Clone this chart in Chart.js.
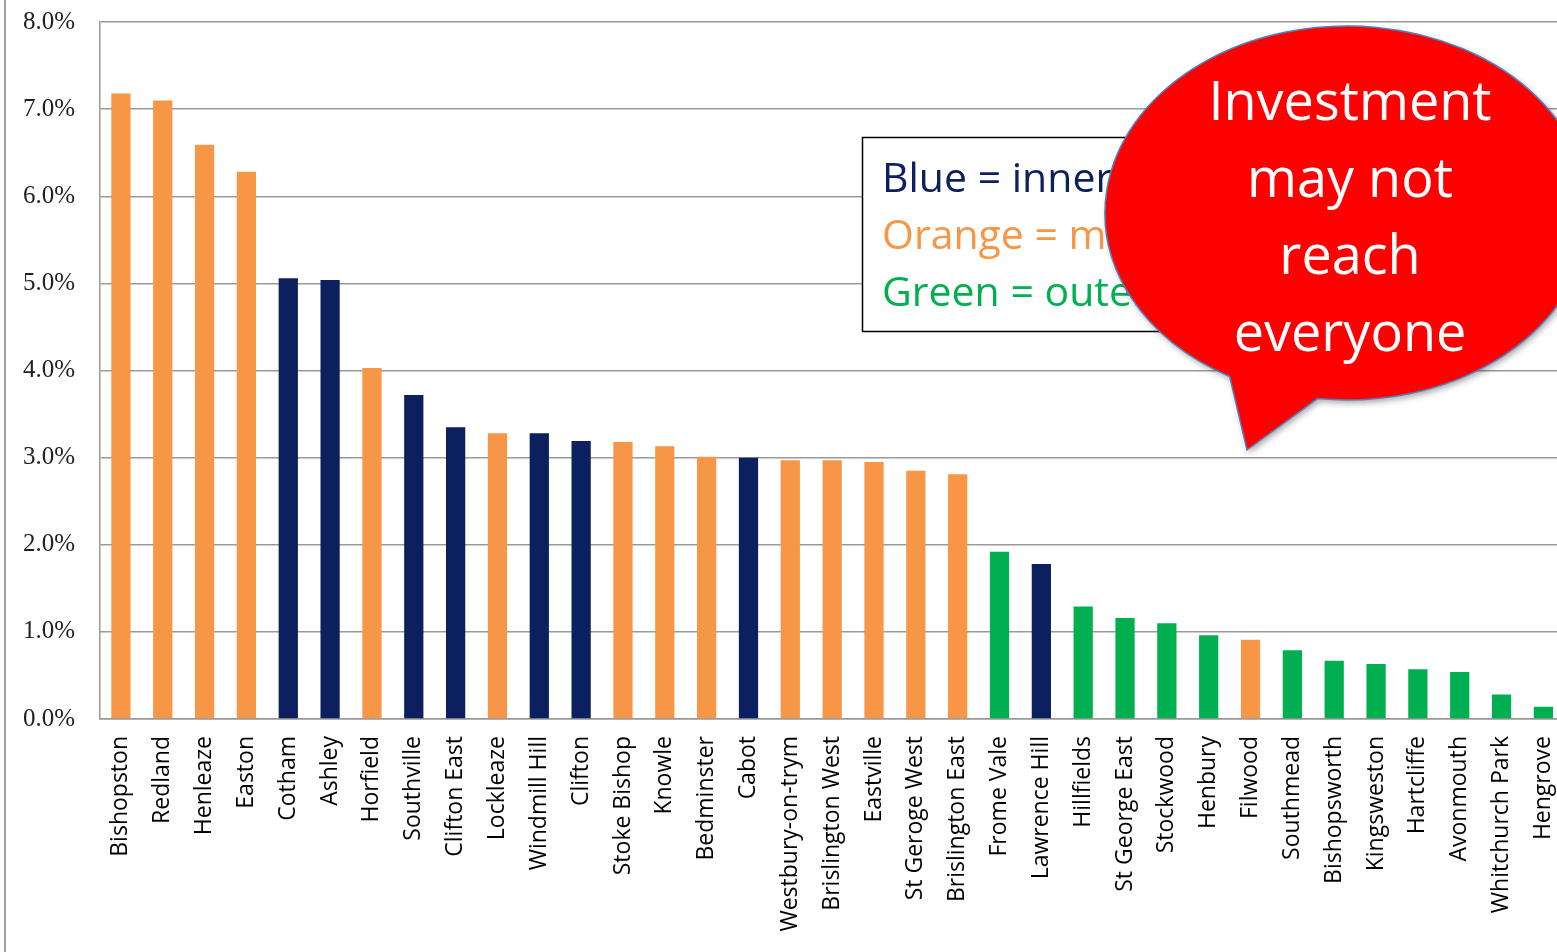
<!DOCTYPE html>
<html>
<head>
<meta charset="utf-8">
<script src="https://cdn.jsdelivr.net/npm/chart.js@4"></script>
<style>
  html, body { margin: 0; padding: 0; background: #fff; overflow: hidden; }
  /* canvas shifted up so the plot top lands where the original's does */
  #wrap { position: absolute; left: 0; top: -18px; width: 1588px; height: 970px; }
</style>
</head>
<body>
<div id="wrap"><canvas id="wardChart" width="1588" height="970"></canvas></div>
<script>
const wards = [
  "Bishopston", "Redland", "Henleaze", "Easton", "Cotham", "Ashley", "Horfield",
  "Southville", "Clifton East", "Lockleaze", "Windmill Hill", "Clifton",
  "Stoke Bishop", "Knowle", "Bedminster", "Cabot", "Westbury-on-trym",
  "Brislington West", "Eastville", "St Geroge West", "Brislington East",
  "Frome Vale", "Lawrence Hill", "Hillfields", "St George East", "Stockwood",
  "Henbury", "Filwood", "Southmead", "Bishopsworth", "Kingsweston",
  "Hartcliffe", "Avonmouth", "Whitchurch Park", "Hengrove",
];

const shares = [
  7.18, 7.10, 6.59, 6.28, 5.06, 5.04, 4.03,
  3.72, 3.35, 3.28, 3.28, 3.19,
  3.18, 3.13, 3.01, 3.00, 2.97,
  2.97, 2.95, 2.85, 2.81,
  1.92, 1.78, 1.29, 1.16, 1.10,
  0.96, 0.91, 0.79, 0.67, 0.63,
  0.57, 0.54, 0.28, 0.14,
];

// i = inner city, m = middle, o = outer
const zones = [
  "m", "m", "m", "m", "i", "i", "m",
  "i", "i", "m", "i", "i",
  "m", "m", "m", "i", "m",
  "m", "m", "m", "m",
  "o", "i", "o", "o", "o",
  "o", "m", "o", "o", "o",
  "o", "o", "o", "o",
];

const yTicks = [0, 1, 2, 3, 4, 5, 6, 7, 8];

const zoneColors = { i: "#0c1f5e", m: "#f79646", o: "#00b050" };

const legendLines = [
  { text: "Blue = inner", color: "#0c1f5e" },
  { text: "Orange = mid", color: "#f79646" },
  { text: "Green = outer", color: "#00b050" },
];

const bubbleLines = ["Investment", "may not", "reach", "everyone"];

const SHIFT = 18; // matches the -18px offset of #wrap

// frame, legend box and speech bubble drawn on top (page coordinates)
const overlay = {
  id: "overlay",
  afterDraw(chart) {
    const c = chart.ctx;
    c.save();
    c.translate(0, SHIFT);

    // outer frame line on the left
    c.strokeStyle = "#a0a0a0";
    c.lineWidth = 2;
    c.beginPath();
    c.moveTo(5, -SHIFT);
    c.lineTo(5, 952);
    c.stroke();

    // legend box
    c.fillStyle = "#fff";
    c.fillRect(862, 137, 340, 194);
    c.strokeStyle = "#000";
    c.lineWidth = 1.5;
    c.strokeRect(862.5, 137.5, 340, 194);
    c.font = '41px "Open Sans"';
    c.textAlign = "left";
    c.textBaseline = "alphabetic";
    legendLines.forEach((l, k) => {
      c.fillStyle = l.color;
      c.fillText(l.text, 882, 192 + k * 57);
    });

    // speech bubble
    const cx = 1347, cy = 213, rx = 242, ry = 187;
    const a1 = 97 * Math.PI / 180, a2 = 119 * Math.PI / 180;
    c.beginPath();
    c.moveTo(1247, 450);
    c.lineTo(cx + rx * Math.cos(a1), cy + ry * Math.sin(a1));
    c.ellipse(cx, cy, rx, ry, 0, a1, a2, true);
    c.closePath();
    c.shadowColor = "rgba(0,0,0,0.35)";
    c.shadowBlur = 6;
    c.shadowOffsetX = 2;
    c.shadowOffsetY = 3;
    c.fillStyle = "#ff0000";
    c.fill();
    c.shadowColor = "transparent";
    c.strokeStyle = "#4f81bd";
    c.lineWidth = 1.5;
    c.stroke();

    c.fillStyle = "#fff";
    c.font = '54px "Open Sans"';
    c.textAlign = "center";
    bubbleLines.forEach((t, k) => {
      c.fillText(t, 1350, 120 + k * 77);
    });

    c.restore();
  },
};

new Chart(document.getElementById("wardChart"), {
  type: "bar",
  data: {
    labels: wards,
    datasets: [
      {
        data: shares,
        backgroundColor: zones.map((z) => zoneColors[z]),
        borderWidth: 0,
        categoryPercentage: 1,
        barPercentage: 0.46,
      },
    ],
  },
  options: {
    responsive: false,
    animation: false,
    devicePixelRatio: 1,
    layout: { padding: { top: 4, right: 0, left: 0, bottom: 0 } },
    plugins: {
      legend: { display: false },
      tooltip: { enabled: false },
    },
    scales: {
      x: {
        grid: { display: false, drawTicks: false },
        border: { display: true, color: "#999", width: 1.5 },
        ticks: {
          autoSkip: false,
          maxRotation: 90,
          minRotation: 90,
          padding: 17,
          color: "#000",
          font: { family: "Open Sans", size: 23 },
        },
        afterFit(scale) {
          scale.height = 233;
        },
      },
      y: {
        min: 0,
        max: 8,
        afterBuildTicks(scale) {
          scale.ticks = yTicks.map((v) => ({ value: v }));
        },
        grid: { color: "#9a9a9a", lineWidth: 1.5, drawTicks: false },
        border: { display: true, color: "#999", width: 1.5 },
        ticks: {
          padding: 25,
          color: "#222",
          font: { family: "Liberation Serif", size: 25 },
          callback: (v) => v.toFixed(1) + "%",
        },
        afterFit(scale) {
          scale.width = 100;
        },
      },
    },
  },
  plugins: [overlay],
});
</script>
</body>
</html>
